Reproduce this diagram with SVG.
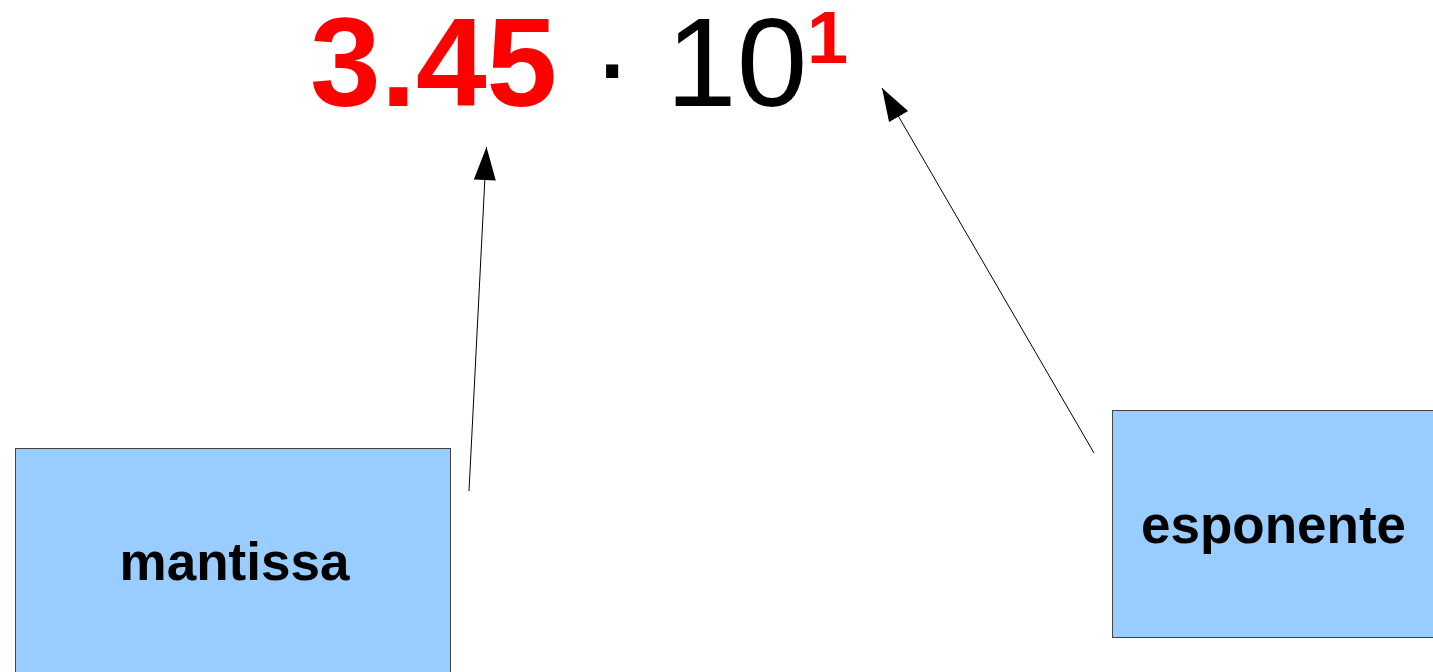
<svg xmlns="http://www.w3.org/2000/svg" width="1433" height="672" viewBox="0 0 1433 672">
<style>
.box{fill:#99ccff;stroke:#444;stroke-width:1}
.lbl{font-family:"Liberation Sans",Arial,sans-serif;font-weight:bold;fill:#000;text-anchor:middle}
.f{font-family:"Liberation Sans",Arial,sans-serif}
.conn{stroke:#000;stroke-width:1;fill:none;marker-end:url(#ah)}
</style>
<defs>
<marker id="ah" markerUnits="userSpaceOnUse" markerWidth="36" markerHeight="24" viewBox="0 -12 34 24" refX="33" refY="0" orient="auto">
<path d="M0,-11 L33,0 L0,11 z" fill="#000"/>
</marker>
</defs>
<rect width="1433" height="672" fill="#fff"/>
<g id="formula">
<text class="f" y="106" x="310" style="font-size:127px;font-weight:bold;fill:#ff0000">3.45</text>
<text class="f" y="106" x="591" style="font-size:127px;fill:#000">·</text>
<text class="f" y="106" x="666" style="font-size:127px;fill:#000">10</text>
<text class="f" y="63" x="807" style="font-size:74px;font-weight:bold;fill:#ff0000">1</text>
</g>
<g id="mantissa">
<rect class="box" x="15.5" y="448.5" width="435" height="240"/>
<text class="lbl" x="234.5" y="580" style="font-size:53px">mantissa</text>
</g>
<g id="esponente">
<rect class="box" x="1112.5" y="410.5" width="330" height="227"/>
<text class="lbl" x="1273.5" y="543" style="font-size:53px">esponente</text>
</g>
<g id="connectors">
<line class="conn" x1="469" y1="491" x2="486.5" y2="147"/>
<line class="conn" x1="1094" y1="453" x2="882" y2="88"/>
</g>
</svg>
